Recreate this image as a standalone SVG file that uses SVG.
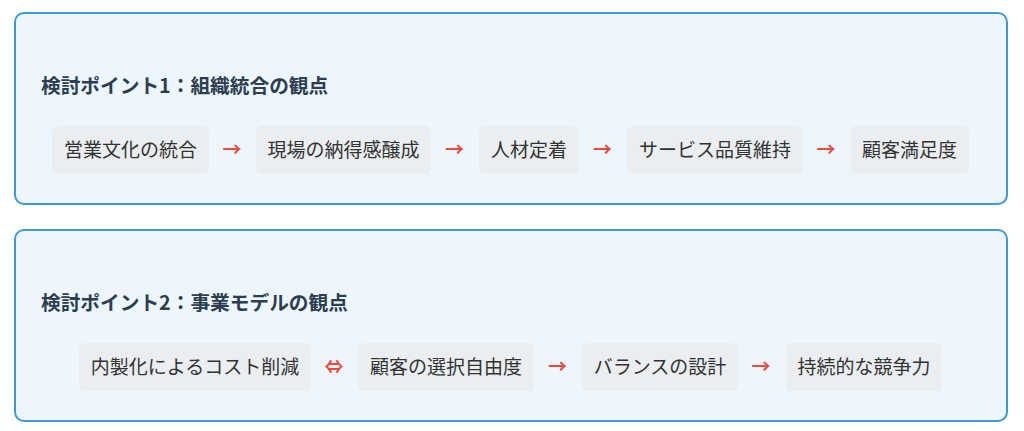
<svg xmlns="http://www.w3.org/2000/svg" width="1024" height="431" viewBox="0 0 1024 431">
<style>
.panel{fill:#eef6fd;stroke:#3b99dc;stroke-width:2}
.title{font-family:"Noto Sans CJK JP","Noto Sans",sans-serif;font-size:19.7px;font-weight:bold;fill:#2c3e50}
.box{fill:#eaeef0}
.lbl{font-family:"Noto Sans CJK JP","Noto Sans",sans-serif;font-size:19px;fill:#333;text-anchor:middle}
.arr{font-family:"Noto Sans CJK JP","DejaVu Sans",sans-serif;font-size:19px;font-weight:bold;fill:#e74c3c;text-anchor:middle}
</style>
<rect width="1024" height="431" fill="#ffffff"/>
<g id="panel1">
<rect class="panel" x="15" y="13" width="992" height="191" rx="9"/>
<text class="title" x="41" y="93">検討ポイント1：組織統合の観点</text>
</g>
<g id="panel2">
<rect class="panel" x="15" y="230" width="992" height="191" rx="9"/>
<text class="title" x="41" y="310">検討ポイント2：事業モデルの観点</text>
</g>
<g id="n1-1"><rect class="box" x="52" y="126" width="157" height="48" rx="6"/><text class="lbl" x="130.5" y="157">営業文化の統合</text></g>
<g id="n1-2"><rect class="box" x="256" y="126" width="175" height="48" rx="6"/><text class="lbl" x="343.5" y="157">現場の納得感醸成</text></g>
<g id="n1-3"><rect class="box" x="479" y="126" width="100" height="48" rx="6"/><text class="lbl" x="529" y="157">人材定着</text></g>
<g id="n1-4"><rect class="box" x="627" y="126" width="176" height="48" rx="6"/><text class="lbl" x="715" y="157">サービス品質維持</text></g>
<g id="n1-5"><rect class="box" x="850" y="126" width="119" height="48" rx="6"/><text class="lbl" x="909.5" y="157">顧客満足度</text></g>
<g id="n2-1"><rect class="box" x="79" y="343" width="232" height="48" rx="6"/><text class="lbl" x="195" y="374">内製化によるコスト削減</text></g>
<g id="n2-2"><rect class="box" x="358" y="343" width="176" height="48" rx="6"/><text class="lbl" x="446" y="374">顧客の選択自由度</text></g>
<g id="n2-3"><rect class="box" x="582" y="343" width="156" height="48" rx="6"/><text class="lbl" x="660" y="374">バランスの設計</text></g>
<g id="n2-4"><rect class="box" x="786" y="343" width="156" height="48" rx="6"/><text class="lbl" x="864" y="374">持続的な競争力</text></g>
<g id="connectors">
<text class="arr" x="232" y="157">→</text>
<text class="arr" x="454.5" y="157">→</text>
<text class="arr" x="602.5" y="157">→</text>
<text class="arr" x="826" y="157">→</text>
<text class="arr" x="334" y="374">⇔</text>
<text class="arr" x="557.5" y="374">→</text>
<text class="arr" x="761" y="374">→</text>
</g>
</svg>
